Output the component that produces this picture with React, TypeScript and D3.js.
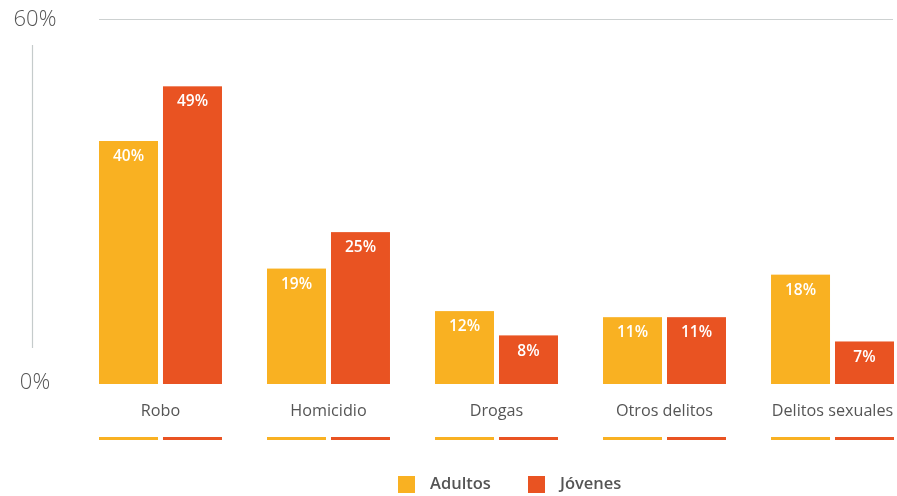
import { useMemo } from "react";
import * as d3 from "d3";

const categories = ["Robo", "Homicidio", "Drogas", "Otros delitos", "Delitos sexuales"];
const seriesNames = ["Adultos", "Jóvenes"];
const adultos = [40, 19, 12, 11, 18];
const jovenes = [49, 25, 8, 11, 7];
const yTicks = [0, 60];
const colorList = ["#F9B122", "#E95322"];

const width = 897;
const height = 496;

export default function App() {
  const x = useMemo(
    () => d3.scaleBand<string>().domain(categories).range([99, 894]).paddingInner(0.268),
    []
  );
  const xSub = useMemo(
    () => d3.scaleBand<string>().domain(seriesNames).range([0, x.bandwidth()]).paddingInner(0.078),
    [x]
  );
  const y = d3.scaleLinear().domain([0, 60]).range([384, 19.5]);
  const color = d3.scaleOrdinal<string>().domain(seriesNames).range(colorList);

  const values = [adultos, jovenes];
  const font = "'Open Sans', sans-serif";

  const groups = categories.map((cat, i) => {
    const gx = x(cat) ?? 0;
    return (
      <g key={cat} transform={`translate(${gx},0)`}>
        {seriesNames.map((s, j) => {
          const v = values[j][i];
          const bx = xSub(s) ?? 0;
          return (
            <g key={s}>
              <rect
                x={bx}
                y={y(v)}
                width={xSub.bandwidth()}
                height={y(0) - y(v)}
                fill={color(s)}
              />
              <text
                x={bx + xSub.bandwidth() / 2}
                y={y(v) + 16}
                textAnchor="middle"
                dominantBaseline="middle"
                fontSize={15.5}
                fontWeight={600}
                fill="white"
              >
                {v}%
              </text>
              <rect x={bx} y={437} width={xSub.bandwidth()} height={3} fill={color(s)} />
            </g>
          );
        })}
        <text
          x={x.bandwidth() / 2}
          y={412}
          textAnchor="middle"
          dominantBaseline="middle"
          fontSize={16.2}
          fill="#555"
        >
          {cat}
        </text>
      </g>
    );
  });

  return (
    <div style={{ position: "fixed", left: 0, top: 0 }}>
      <svg width={width} height={height} fontFamily={font} style={{ display: "block" }}>
        <line x1={99} x2={893} y1={y(60)} y2={y(60)} stroke="#cdd1d1" strokeWidth={1.2} />
        <line x1={32.5} x2={32.5} y1={45} y2={348} stroke="#c5cbcb" strokeWidth={1.2} />
        {yTicks.map((t) => (
          <text
            key={t}
            x={35}
            y={t === 0 ? 383 : 20}
            textAnchor="middle"
            dominantBaseline="middle"
            fontSize={22}
            fontWeight={300}
            fill="#555"
          >
            {t}%
          </text>
        ))}
        {groups}
        {seriesNames.map((s, j) => {
          const lx = [398, 528][j];
          return (
            <g key={s}>
              <rect x={lx} y={476} width={17} height={17} fill={color(s)} />
              <text
                x={lx + 32}
                y={485}
                dominantBaseline="middle"
                fontSize={16.5}
                fontWeight={600}
                fill="#555"
              >
                {s}
              </text>
            </g>
          );
        })}
      </svg>
    </div>
  );
}
